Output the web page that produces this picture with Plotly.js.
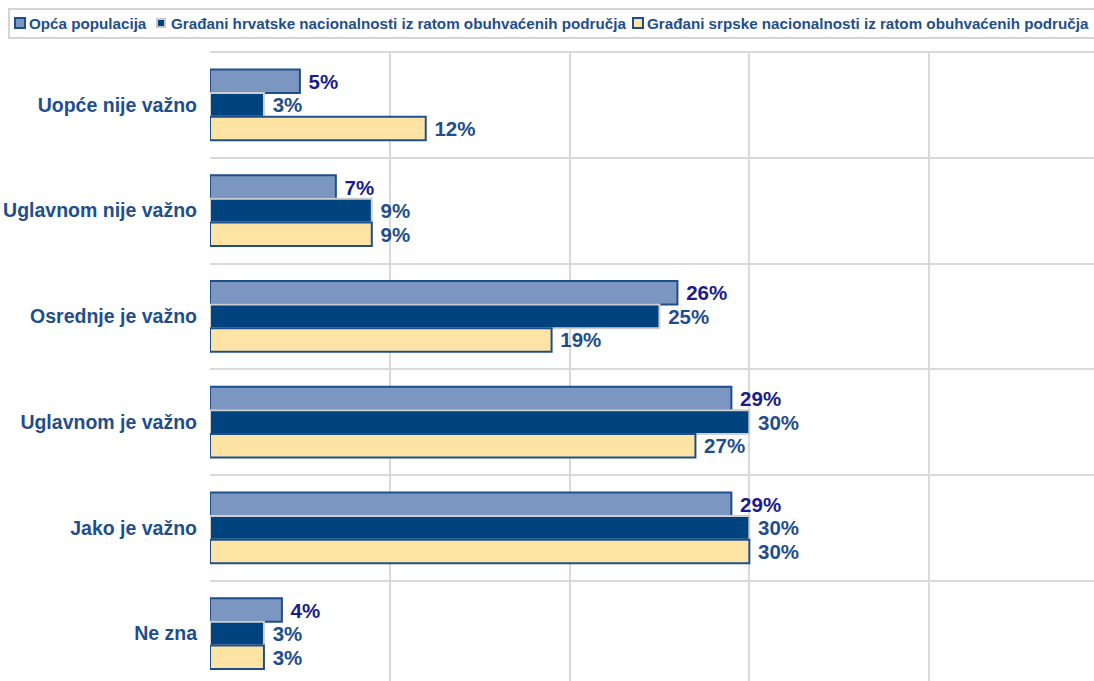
<!DOCTYPE html>
<html>
<head>
<meta charset="utf-8">
<script src="https://cdn.plot.ly/plotly-3.0.1.min.js"></script>
<style>html,body{margin:0;padding:0;background:#fff;}#chart{width:1094px;height:681px;}</style>
</head>
<body>
<div id="chart"></div>
<script>
var categories = ["Uopće nije važno", "Uglavnom nije važno", "Osrednje je važno", "Uglavnom je važno", "Jako je važno", "Ne zna"];
var seriesNames = ["Opća populacija", "Građani hrvatske nacionalnosti iz ratom obuhvaćenih područja", "Građani srpske nacionalnosti iz ratom obuhvaćenih područja"];
var opcaPopulacija = [5, 7, 26, 29, 29, 4];
var hrvatskeNac = [3, 9, 25, 30, 30, 3];
var srpskeNac = [12, 9, 19, 27, 30, 3];

var W = 1094, H = 681, ML = 210, MT = 52;
var PW = W - ML, PH = H - MT;
function px2x(px) { return (px - ML) / PW; }
function py2y(py) { return (H - py) / PH; }

var FONT = "Liberation Sans, Arial, Helvetica, sans-serif";
var BLUE = "#1F4E8C";
var NAVY = "#1B1B8C";

var fills = ["#7B96C0", "#00437F", "#FDE4A4"];
var outlines = [BLUE, "#CFCFCF", BLUE];
var labelColors = [NAVY, BLUE, BLUE];
var values = [opcaPopulacija, hrvatskeNac, srpskeNac];

var traces = values.map(function (v, i) {
  return {
    type: "bar",
    orientation: "h",
    name: seriesNames[i],
    y: categories,
    x: v,
    marker: { color: fills[i], line: { color: outlines[i], width: 2 } },
    texttemplate: "\u00A0%{x}%",
    textposition: "outside",
    constraintext: "none",
    cliponaxis: false,
    textfont: { family: FONT, size: 20.5, weight: "bold", color: labelColors[i] },
    hoverinfo: "skip",
    showlegend: false
  };
});

var shapes = [
  { type: "rect", xref: "paper", yref: "paper", x0: px2x(9), x1: px2x(1100), y0: py2y(38), y1: py2y(9),
    line: { color: "#D4D4D4", width: 2 }, fillcolor: "rgba(0,0,0,0)", layer: "above" },
  { type: "line", xref: "paper", yref: "paper", x0: 0, x1: 1, y0: 1, y1: 1,
    line: { color: "#D9D9D9", width: 2 }, layer: "below" }
];
var swatches = [
  { x0: 15, x1: 25, y0: 18, y1: 28 },
  { x0: 157, x1: 165, y0: 19, y1: 27 },
  { x0: 633, x1: 643, y0: 18, y1: 28 }
];
var textStarts = [29, 171, 647];
var annotations = [];
swatches.forEach(function (s, i) {
  shapes.push({ type: "rect", xref: "paper", yref: "paper",
    x0: px2x(s.x0), x1: px2x(s.x1), y0: py2y(s.y1), y1: py2y(s.y0),
    fillcolor: fills[i], line: { color: outlines[i] === BLUE ? BLUE : "#C8C8C8", width: 2 } });
  annotations.push({ xref: "paper", yref: "paper", x: px2x(textStarts[i] - 2), y: py2y(23),
    xanchor: "left", yanchor: "middle", showarrow: false, text: seriesNames[i],
    font: { family: FONT, size: 15.2, weight: "bold", color: BLUE } });
});

var layout = {
  width: W, height: H,
  margin: { l: ML, r: 0, t: MT, b: 0, pad: 0 },
  paper_bgcolor: "#fff", plot_bgcolor: "#fff",
  barmode: "group", bargap: 0.33, bargroupgap: 0,
  showlegend: false,
  xaxis: {
    range: [0, 49.17], autorange: false,
    dtick: 10, tick0: 0,
    showgrid: true, gridcolor: "#D9D9D9", gridwidth: 2,
    zeroline: false, showticklabels: false, ticks: "",
    showline: true, linecolor: "#D0D0D0", linewidth: 2, fixedrange: true
  },
  yaxis: {
    type: "category", categoryorder: "array", categoryarray: categories,
    range: [5.448, -0.5], autorange: false,
    tickson: "boundaries", showgrid: true, gridcolor: "#D9D9D9", gridwidth: 2,
    ticks: "", ticklabelstandoff: 12, zeroline: false, showline: false,
    tickfont: { family: FONT, size: 19.5, weight: "bold", color: BLUE }, fixedrange: true
  },
  shapes: shapes,
  annotations: annotations
};

Plotly.newPlot("chart", traces, layout, { displayModeBar: false, staticPlot: true });
</script>
</body>
</html>
